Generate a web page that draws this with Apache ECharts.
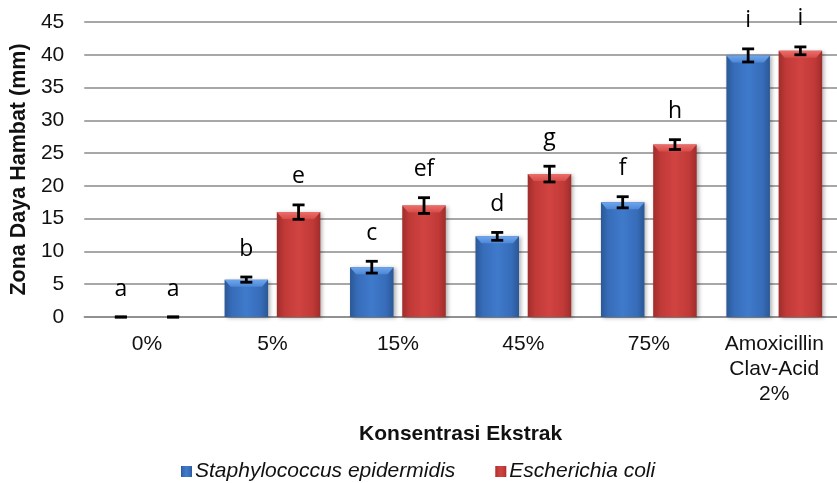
<!DOCTYPE html>
<html>
<head>
<meta charset="utf-8">
<script src="https://cdn.jsdelivr.net/npm/echarts@6/dist/echarts.min.js"></script>
<style>
  html, body { margin: 0; padding: 0; background: #fff; }
  #chart { width: 837px; height: 483px; }
</style>
</head>
<body>
<div id="chart"></div>
<script>
// Inhibition zone (mm) per extract concentration
const categories = ['0%', '5%', '15%', '45%', '75%', 'Amoxicillin\nClav-Acid\n2%'];

const staphName = 'Staphylococcus epidermidis';
const staphValues = [0, 5.7, 7.6, 12.3, 17.5, 39.9];
const staphErrors = [0, 0.4, 0.9, 0.6, 0.85, 1.0];
const staphLetters = ['a', 'b', 'c', 'd', 'f', 'i'];

const ecoliName = 'Escherichia coli';
const ecoliValues = [0, 16.0, 17.0, 21.8, 26.3, 40.6];
const ecoliErrors = [0, 1.1, 1.2, 1.2, 0.75, 0.6];
const ecoliLetters = ['a', 'e', 'ef', 'g', 'h', 'i'];

const yMin = 0, yMax = 45, yStep = 5;

const BAR_W = 0.347;   // bar width as a share of the category band
const BAR_GAP = 0.2;   // gap between the two bars as a share of bar width

function hGrad(edge, mid, center) {
  return new echarts.graphic.LinearGradient(0, 0, 1, 0, [
    { offset: 0, color: edge },
    { offset: 0.18, color: mid },
    { offset: 0.5, color: center },
    { offset: 0.82, color: mid },
    { offset: 1, color: edge }
  ]);
}

const blueFill = hGrad('#2b5896', '#376dba', '#3f7acb');
const redFill = hGrad('#9f2d2b', '#c13a38', '#d04341');

const chart = echarts.init(document.getElementById('chart'), null, { renderer: 'canvas' });

// Bevel cap, error bar and significance letter drawn on top of each bar
function overlay(side, bevelTop, bevelBottom) {
  return function (params, api) {
    const i = api.value(0);
    const v = api.value(1);
    const err = api.value(2);
    const letter = api.value(3);
    const band = api.size([1, 0])[0];
    const w = band * BAR_W;
    const off = side * (w / 2 + (w * BAR_GAP) / 2);
    const top = api.coord([i, v]);
    const cx = top[0] + off;
    const x0 = cx - w / 2, x1 = cx + w / 2;
    const hi = api.coord([i, v + err])[1];
    const lo = api.coord([i, v - err])[1];
    const children = [];
    if (v > 0) {
      children.push({
        type: 'polygon',
        shape: { points: [[x0, top[1]], [x1, top[1]], [x1 - 6, top[1] + 7], [x0 + 6, top[1] + 7]] },
        style: {
          fill: new echarts.graphic.LinearGradient(0, 0, 0, 1, [
            { offset: 0, color: bevelTop },
            { offset: 1, color: bevelBottom }
          ])
        }
      });
    }
    const cap = 6;
    const ls = { stroke: '#000', lineWidth: 2.8 };
    children.push({ type: 'line', shape: { x1: cx, y1: hi, x2: cx, y2: lo }, style: ls });
    children.push({ type: 'line', shape: { x1: cx - cap, y1: hi, x2: cx + cap, y2: hi }, style: ls });
    children.push({ type: 'line', shape: { x1: cx - cap, y1: lo, x2: cx + cap, y2: lo }, style: ls });
    children.push({
      type: 'text',
      style: {
        text: String(letter),
        x: cx, y: hi - 28,
        align: 'center', verticalAlign: 'middle',
        fontFamily: 'Open Sans', fontSize: 23, fill: '#000'
      }
    });
    return { type: 'group', children: children };
  };
}

function overlayData(values, errors, letters) {
  return values.map((v, i) => [i, v, errors[i], letters[i]]);
}

const labelFont = { fontFamily: 'Liberation Sans', fontSize: 21, color: '#111' };

chart.setOption({
  animation: false,
  backgroundColor: '#fff',
  grid: { left: 83.5, right: -6.5, top: 22, bottom: 166, containLabel: false },
  legend: {
    data: [
      { name: staphName, icon: 'rect' },
      { name: ecoliName, icon: 'rect' }
    ],
    left: 176,
    top: 456,
    itemWidth: 11,
    itemHeight: 11,
    itemGap: 40,
    textStyle: { fontFamily: 'Liberation Sans', fontSize: 21, fontStyle: 'italic', color: '#111', padding: [0, 0, 0, -2] }
  },
  xAxis: {
    type: 'category',
    data: categories,
    name: 'Konsentrasi Ekstrak',
    nameLocation: 'middle',
    nameGap: 107,
    nameTextStyle: { fontFamily: 'Liberation Sans', fontSize: 21, fontWeight: 'bold', color: '#111', verticalAlign: 'top' },
    axisLine: { lineStyle: { color: '#8a8a8a', width: 1.5 } },
    axisTick: { show: false },
    axisLabel: Object.assign({ margin: 15, lineHeight: 25, interval: 0 }, labelFont)
  },
  yAxis: {
    type: 'value',
    min: yMin,
    max: yMax,
    interval: yStep,
    name: 'Zona Daya Hambat (mm)',
    nameLocation: 'middle',
    nameGap: 50,
    nameTextStyle: { fontFamily: 'Liberation Sans', fontSize: 21.5, fontWeight: 'bold', color: '#111' },
    axisLine: { show: false },
    axisTick: { show: false },
    splitLine: { lineStyle: { color: '#8a8a8a', width: 1.5 } },
    axisLabel: Object.assign({ margin: 20 }, labelFont)
  },
  series: [
    {
      name: staphName,
      type: 'bar',
      data: staphValues,
      barWidth: (BAR_W * 100) + '%',
      barGap: (BAR_GAP * 100) + '%',
      itemStyle: {
        color: blueFill,
        shadowBlur: 4, shadowColor: 'rgba(0,0,0,0.3)', shadowOffsetX: 2, shadowOffsetY: 1
      },
      z: 2
    },
    {
      name: ecoliName,
      type: 'bar',
      data: ecoliValues,
      barWidth: (BAR_W * 100) + '%',
      barGap: (BAR_GAP * 100) + '%',
      itemStyle: {
        color: redFill,
        shadowBlur: 4, shadowColor: 'rgba(0,0,0,0.3)', shadowOffsetX: 2, shadowOffsetY: 1
      },
      z: 2
    },
    {
      name: staphName,
      type: 'custom',
      renderItem: overlay(-1, '#6fa6ec', '#4d87d6'),
      data: overlayData(staphValues, staphErrors, staphLetters),
      encode: { x: 0, y: 1 },
      clip: false,
      silent: true,
      z: 5
    },
    {
      name: ecoliName,
      type: 'custom',
      renderItem: overlay(1, '#ea6e6b', '#d84b48'),
      data: overlayData(ecoliValues, ecoliErrors, ecoliLetters),
      encode: { x: 0, y: 1 },
      clip: false,
      silent: true,
      z: 5
    }
  ]
});
</script>
</body>
</html>
